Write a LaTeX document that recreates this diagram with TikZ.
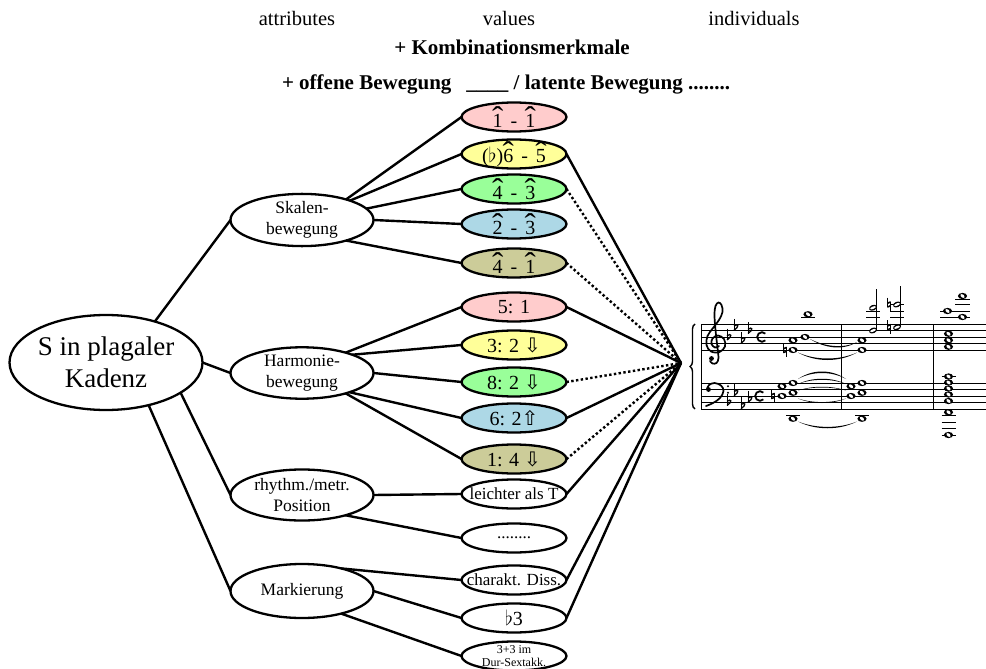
\documentclass[tikz,border=0pt]{standalone}
\usepackage{graphicx}
\usepackage{fontspec}
\setmainfont{Liberation Serif}
\newfontfamily\arrowfont{DejaVu Sans}
\usetikzlibrary{shapes.geometric,decorations.pathreplacing}

\newcommand\setfs[2]{\fontsize{#1}{#2}\selectfont}
% scale degree: digit with a wide circumflex above it
\newcommand\scdeg[1]{\leavevmode\rlap{\makebox[0.5em]{\scalebox{1.7}[1.5]{ˆ}}}#1}
\newcommand\dash{\hspace{0.4em}-\hspace{0.4em}}
\newcommand\dnarrow{{\arrowfont ⇩}}
\newcommand\uparr{{\arrowfont ⇧}}

\definecolor{cpink}{RGB}{255,204,204}
\definecolor{cyellow}{RGB}{255,255,153}
\definecolor{cgreen}{RGB}{153,255,153}
\definecolor{cblue}{RGB}{173,216,230}
\definecolor{colive}{RGB}{204,204,153}

% music glyph helpers (x, y of the note position)
\newcommand\wnote[2]{%
  \fill (#1,#2) ellipse [x radius=4.6, y radius=3.1];
  \fill[white, rotate around={-40:(#1,#2)}] (#1,#2) ellipse [x radius=2.4, y radius=1.5];}
\newcommand\hnote[2]{%
  \fill[rotate around={22:(#1,#2)}] (#1,#2) ellipse [x radius=4.1, y radius=2.8];
  \fill[white, rotate around={22:(#1,#2)}] (#1,#2) ellipse [x radius=3.0, y radius=1.2];}
\newcommand\ledger[2]{\draw[line width=0.9pt] ({#1-7},#2) -- ({#1+7},#2);}
\newcommand\mflat[2]{%
  \draw[line width=0.8pt] (#1,{#2-8.5}) -- (#1,{#2+3});
  \draw[line width=1.3pt] (#1,{#2+3}) .. controls ({#1+5.5},{#2-0.5}) and ({#1+4.5},{#2-4.5}) .. (#1,{#2-1.2});}
\newcommand\mnat[2]{%
  \draw[line width=0.7pt] ({#1-1.6},{#2-7}) -- ({#1-1.6},{#2+2.8});
  \draw[line width=0.7pt] ({#1+1.6},{#2-2.8}) -- ({#1+1.6},{#2+7});
  \draw[line width=1.6pt] ({#1-1.6},{#2-1.2}) -- ({#1+1.6},{#2-2.6});
  \draw[line width=1.6pt] ({#1-1.6},{#2+2.6}) -- ({#1+1.6},{#2+1.2});}
% tie from (x1,y1) to (x2,y2) bending by h (positive bends downwards)
\newcommand\mtie[5]{%
  \fill (#1,#2) .. controls ({#1+(#3-#1)*0.3},{#2+#5}) and ({#3-(#3-#1)*0.3},{#4+#5}) .. (#3,#4)
    .. controls ({#3-(#3-#1)*0.3},{#4+#5*0.8}) and ({#1+(#3-#1)*0.3},{#2+#5*0.8}) .. cycle;}

\begin{document}
\begin{tikzpicture}[x=1pt,y=-1pt,
  every node/.style={inner sep=0pt, outer sep=0pt},
  bubble/.style={ellipse, draw, line width=2.3pt, align=center},
  rootn/.style={bubble, minimum width=188pt, minimum height=95pt, font=\setfs{27}{32}},
  attr/.style={bubble, minimum width=143pt, minimum height=51pt, font=\setfs{17.5}{21}},
  val/.style={bubble, minimum width=105pt, minimum height=29pt, inner xsep=-20pt, inner ysep=-8pt,
    font=\setfs{20}{24}},
  valsm/.style={val, font=\setfs{17}{19}},
  valxs/.style={val, font=\setfs{12}{12.5}},
  link/.style={line width=2.4pt},
  dotlink/.style={line width=2.4pt, dash pattern=on 2.4pt off 2.4pt},
  hdr/.style={font=\setfs{20.5}{24}},
  hdrb/.style={font=\setfs{21}{24}\bfseries},
]
\useasboundingbox (0,0) rectangle (986,669);
\clip (0,0) rectangle (986,669);

% headings
\node[hdr, anchor=base] (hattr) at (297,26) {attributes};
\node[hdr, anchor=base] (hval) at (509,26) {values};
\node[hdr, anchor=base] (hind) at (754,26) {individuals};
\node[hdrb, anchor=base] (hkomb) at (512,55) {+ Kombinationsmerkmale};
\node[hdrb, anchor=base west] (hmove) at (282,90)
  {+ offene Bewegung\hspace{15pt}\_\_\_\_ / latente Bewegung ........};

% root and attributes
\node[rootn] (root) at (106,362.5) {S in plagaler\\Kadenz};
\node[attr] (sk) at (302,220) {Skalen-\\bewegung};
\node[attr] (hm) at (302,373) {Harmonie-\\bewegung};
\node[attr] (rh) at (302,495) {rhythm./metr.\\Position};
\node[attr, minimum height=54pt] (mk) at (302,591) {Markierung};

% values
\node[val, fill=cpink]   (v11) at (514,117) {\scdeg{1}\dash\scdeg{1}};
\node[val, fill=cyellow] (v65) at (514,154) {($\flat$)\scdeg{6}\dash\scdeg{5}};
\node[val, fill=cgreen]  (v43) at (514,189) {\scdeg{4}\dash\scdeg{3}};
\node[val, fill=cblue]   (v23) at (514,224) {\scdeg{2}\dash\scdeg{3}};
\node[val, fill=colive]  (v41) at (514,263) {\scdeg{4}\dash\scdeg{1}};
\node[val, fill=cpink]   (h51) at (514,307) {5: 1};
\node[val, fill=cyellow] (h32) at (514,345) {3: 2 \dnarrow};
\node[val, fill=cgreen]  (h82) at (514,382) {8: 2 \dnarrow};
\node[val, fill=cblue]   (h62) at (514,418) {6: 2\uparr};
\node[val, fill=colive]  (h14) at (514,459) {1: 4 \dnarrow};
\node[valsm] (r1) at (514,494) {leichter als T};
\node[valsm] (r2) at (514,538) {........};
\node[valsm] (m1) at (514,580) {charakt. Diss.};
\node[val]   (m2) at (514,618) {$\flat$3};
\node[valxs] (m3) at (514,656) {3+3 im\\Dur-Sextakk.};

\coordinate (apex) at (681,363);

% root to attributes
\draw[link] (root.40) -- (sk.west);
\draw[link] (root.east) -- (hm.west);
\draw[link] (root.-22) -- (rh.west);
\draw[link] (root.-45) -- (mk.west);

% attributes to values
\draw[link] (sk.25) -- (v11.west);
\draw[link] (sk.22) -- (v65.west);
\draw[link] (sk.10) -- (v43.west);
\draw[link] (sk.east) -- (v23.west);
\draw[link] (sk.-25) -- (v41.west);
\draw[link] (hm.25) -- (h51.west);
\draw[link] (hm.20) -- (h32.west);
\draw[link] (hm.east) -- (h82.west);
\draw[link] (hm.-22) -- (h62.west);
\draw[link] (hm.-25) -- (h14.west);
\draw[link] (rh.east) -- (r1.west);
\draw[link] (rh.-25) -- (r2.west);
\draw[link] (mk.30) -- (m1.west);
\draw[link] (mk.east) -- (m2.west);
\draw[link] (mk.-30) -- (m3.west);

% values to the example
\draw[link] (v65.east) -- (apex);
\draw[link] (h51.east) -- (apex);
\draw[link] (h62.east) -- (apex);
\draw[link] (r1.east) -- (apex);
\draw[link] (m1.east) -- (apex);
\draw[link] (m2.east) -- (apex);
\draw[dotlink] (v43.east) -- (apex);
\draw[dotlink] (v41.east) -- (apex);
\draw[dotlink] (h82.east) -- (apex);
\draw[dotlink] (h14.east) -- (apex);

% ---- music example: staves, barlines, brace
\foreach \yy in {324,330.5,337,343.5,350,383,389.5,396,402.5,409}
  \draw[line width=0.9pt] (701,\yy) -- (986,\yy);
\foreach \xx in {701,841.5,933}
  \draw[line width=1pt] (\xx,324) -- (\xx,409);
\draw[decorate, decoration={brace, amplitude=5pt}, line width=1.4pt] (695,409) -- (695,324);

% treble clef
\draw[line width=1.7pt, line cap=round] plot[smooth, tension=0.6] coordinates {
  (719,346) (715,347.5) (711.5,344) (712.5,338.5) (718,335.5) (724,339) (725,346.5)
  (719.5,352) (711,351.5) (706.5,345) (707.5,336) (713,328) (719,320) (722.5,312)
  (721.5,305) (718.5,302.5) (715.5,306) (714.5,315) (715.5,330) (717.5,348)
  (718.5,358) (716.5,363) (712.5,363.5) (710,361)};
\fill (711.5,358.5) circle [radius=2.4];

% bass clef
\fill (708.5,389.5) circle [radius=2.4];
\draw[line width=1.7pt, line cap=round] plot[smooth, tension=0.6] coordinates {
  (707,389) (709,385) (714.5,383) (721,385.5) (723.5,391) (720,398) (713,403) (706,406)};
\fill (728,386.3) circle [radius=1.1];
\fill (728,392.7) circle [radius=1.1];

% key signatures
\mflat{727}{337} \mflat{734}{327.25} \mflat{741}{340.25} \mflat{748}{330.5}
\mflat{727}{402.5} \mflat{734}{392.75} \mflat{741}{405.75} \mflat{748}{399.25}

% common time
\draw[line width=1.8pt] (762,337) ++(45:4.8) arc[start angle=45, end angle=315, radius=4.8];
\draw[line width=1.8pt] (760,396) ++(45:4.8) arc[start angle=45, end angle=315, radius=4.8];

% bar 1
\mnat{785}{350}
\wnote{793}{350} \wnote{793}{340.25} \wnote{805}{337}
\ledger{808}{317.5} \wnote{808}{314.25}
\mnat{773}{396}
\wnote{782}{386.25} \wnote{782}{396} \wnote{793}{383} \wnote{793}{392.75}
\ledger{793}{415.5} \wnote{793}{418.75}
% ties into bar 2
\mtie{810}{339}{857}{342}{9}
\mtie{798}{352.5}{857}{352.5}{10}
\mtie{798}{379}{846}{379}{-10}
\mtie{798}{384}{846}{384}{-7}
\mtie{798}{390.5}{846}{390.5}{-5}
\mtie{798}{398.5}{846}{398.5}{6}
\mtie{798}{421.5}{857}{421.5}{9}

% bar 2
\wnote{862}{340.25} \wnote{862}{350}
\wnote{851}{386.25} \wnote{851}{396} \wnote{862}{383} \wnote{862}{392.75}
\ledger{862}{415.5} \wnote{862}{418.75}
\ledger{873}{317.5} \ledger{873}{311}
\hnote{873}{330.5} \hnote{873}{307.75}
\draw[line width=0.9pt] (876.8,330) -- (876.8,289);
\ledger{897}{317.5} \ledger{897}{311} \ledger{897}{304.5}
\mnat{889}{327.25} \mnat{889}{304.5}
\hnote{897}{327.25} \hnote{897}{304.5}
\draw[line width=0.9pt] (900.8,327) -- (900.8,286);

% bar 3
\wnote{948.5}{346.75} \wnote{948.5}{340.25} \wnote{948.5}{333.75}
\draw[line width=0.9pt] (940,317.5) -- (970,317.5);
\draw[line width=0.9pt] (940,311) -- (970,311);
\draw[line width=0.9pt] (955,304.5) -- (970,304.5);
\draw[line width=0.9pt] (955,299) -- (970,299);
\wnote{947.5}{311} \wnote{962.5}{317} \wnote{962.5}{296}
\ledger{948.5}{376.5}
\wnote{948.5}{376.5} \wnote{948.5}{382.5} \wnote{948.5}{388.5} \wnote{948.5}{394.5}
\wnote{948.5}{401} \wnote{948.5}{412.25}
\ledger{948.5}{415.5} \ledger{948.5}{422} \ledger{948.5}{428.5} \ledger{948.5}{435}
\wnote{948.5}{435}
\end{tikzpicture}
\end{document}
